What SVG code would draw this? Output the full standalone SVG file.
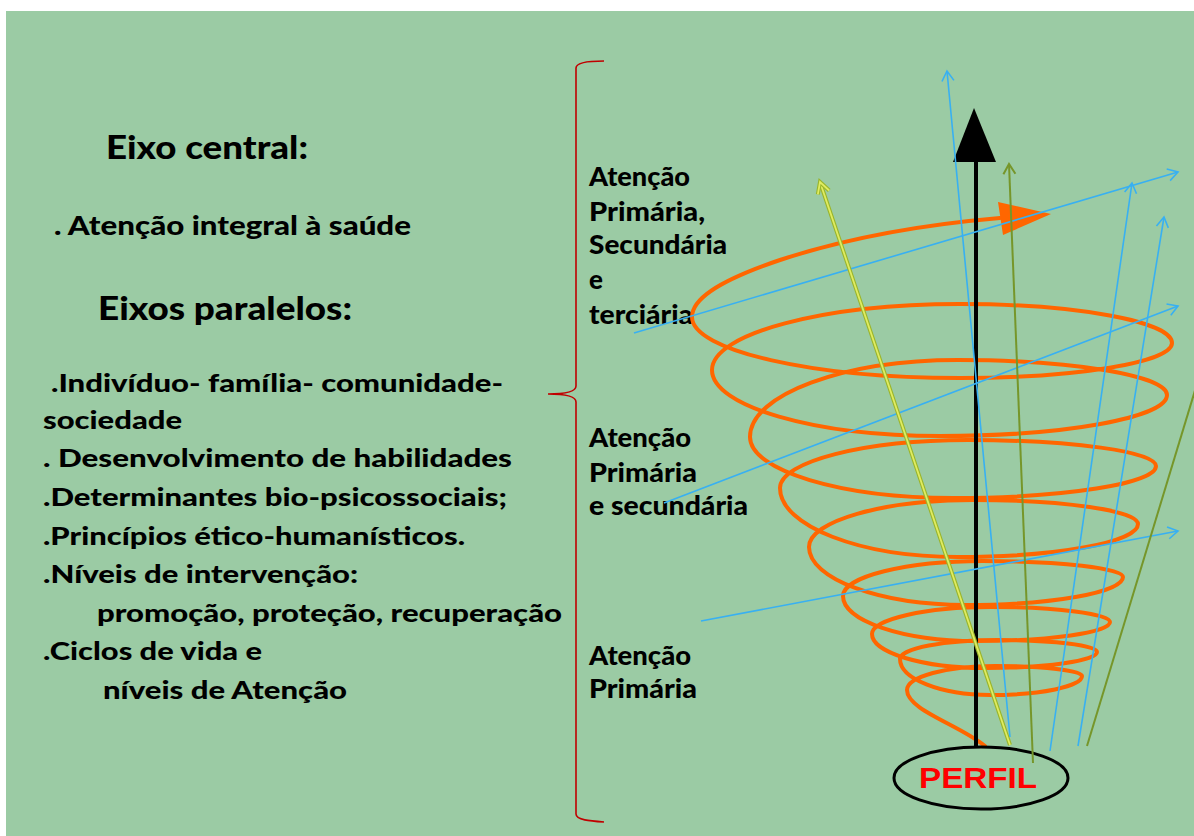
<svg xmlns="http://www.w3.org/2000/svg" width="1194" height="836" viewBox="0 0 1194 836">
<defs>
<style>
.t{font-family:Lato,"Open Sans","Liberation Sans",sans-serif;font-weight:900;fill:#000}
.h{font-size:32px}
.l{font-size:24px}
.r{font-size:26px}
.blue{stroke:#38b0f2;stroke-width:1.6;fill:none}
.olive{stroke:#76962a;stroke-width:2;fill:none}
</style>
<marker id="hb" markerUnits="userSpaceOnUse" markerWidth="24" markerHeight="24" viewBox="-12 -12 24 24" refX="0" refY="0" orient="auto">
<path d="M-10,-6 L0,0 L-10,6" fill="none" stroke="#38b0f2" stroke-width="1.6"/>
</marker>
<marker id="ho" markerUnits="userSpaceOnUse" markerWidth="24" markerHeight="24" viewBox="-12 -12 24 24" refX="0" refY="0" orient="auto">
<path d="M-10,-6 L0,0 L-10,6" fill="none" stroke="#76962a" stroke-width="2"/>
</marker>
<marker id="hy" markerUnits="userSpaceOnUse" markerWidth="30" markerHeight="30" viewBox="-15 -15 30 30" refX="0" refY="0" orient="auto">
<path d="M-11,-6 L0,0 L-11,6" fill="none" stroke="#9ab52a" stroke-width="4"/>
<path d="M-11,-6 L0,0 L-11,6" fill="none" stroke="#e0ec62" stroke-width="1.8"/>
</marker>
</defs>
<rect x="0" y="0" width="1194" height="836" fill="#ffffff"/>
<rect x="6" y="11" width="1188" height="825" fill="#9bcba4"/>

<g id="left-text">
<text class="t h" x="106" y="159" textLength="202" lengthAdjust="spacingAndGlyphs">Eixo central:</text>
<text class="t" font-size="26" x="54" y="235" textLength="357" lengthAdjust="spacingAndGlyphs">. Atenção integral à saúde</text>
<text class="t h" x="98" y="320" textLength="254" lengthAdjust="spacingAndGlyphs">Eixos paralelos:</text>
<text class="t l" x="51" y="392" textLength="452" lengthAdjust="spacingAndGlyphs">.Indivíduo- família- comunidade-</text>
<text class="t l" x="43" y="429" textLength="139" lengthAdjust="spacingAndGlyphs">sociedade</text>
<text class="t l" x="43" y="467" textLength="469" lengthAdjust="spacingAndGlyphs">. Desenvolvimento de habilidades</text>
<text class="t l" x="43" y="506" textLength="464" lengthAdjust="spacingAndGlyphs">.Determinantes bio-psicossociais;</text>
<text class="t l" x="43" y="545" textLength="422" lengthAdjust="spacingAndGlyphs">.Princípios ético-humanísticos.</text>
<text class="t l" x="43" y="583" textLength="315" lengthAdjust="spacingAndGlyphs">.Níveis de intervenção:</text>
<text class="t l" x="97" y="622" textLength="465" lengthAdjust="spacingAndGlyphs">promoção, proteção, recuperação</text>
<text class="t l" x="43" y="660" textLength="219" lengthAdjust="spacingAndGlyphs">.Ciclos de vida e</text>
<text class="t l" x="103" y="699" textLength="244" lengthAdjust="spacingAndGlyphs">níveis de Atenção</text>
</g>

<g id="brace">
<path d="M604,61 C590,61 576,62 576,68 L576,386 C576,392 566,394 548,394 C566,394 576,396 576,402 L576,814 C576,820 590,821 604,822" fill="none" stroke="#c00000" stroke-width="1.6"/>
</g>

<g id="level-labels">
<text class="t r" x="589" y="186" textLength="101" lengthAdjust="spacingAndGlyphs">Atenção</text>
<text class="t r" x="589" y="221" textLength="116" lengthAdjust="spacingAndGlyphs">Primária,</text>
<text class="t r" x="589" y="254" textLength="138" lengthAdjust="spacingAndGlyphs">Secundária</text>
<text class="t r" x="589" y="289">e</text>
<text class="t r" x="589" y="324" textLength="104" lengthAdjust="spacingAndGlyphs">terciária</text>
<text class="t r" x="589" y="447" textLength="102" lengthAdjust="spacingAndGlyphs">Atenção</text>
<text class="t r" x="589" y="482" textLength="108" lengthAdjust="spacingAndGlyphs">Primária</text>
<text class="t r" x="589" y="515" textLength="159" lengthAdjust="spacingAndGlyphs">e secundária</text>
<text class="t r" x="589" y="665" textLength="102" lengthAdjust="spacingAndGlyphs">Atenção</text>
<text class="t r" x="589" y="698" textLength="108" lengthAdjust="spacingAndGlyphs">Primária</text>
</g>

<g id="spiral">
<path fill="none" stroke="#ff6600" stroke-width="4" stroke-linecap="round" stroke-linejoin="round" d="M985,746 C960,725 907,710 907,690
C907,676.8 946.6,666 995,666 C1042.9,666 1082,670.5 1082,676 C1082,686.5 1040.6,695 990,695 C940.5,695 900,678.8 900,659
C900,648.5 944.1,640 998,640 C1052.5,640 1097,645.4 1097,652 C1097,660.8 1046.6,668 985,668 C922.9,668 872,652.7 872,634
C872,619.2 925.6,607 991,607 C1056.5,607 1110,613.8 1110,622 C1110,632.5 1049.7,641 976,641 C902.9,641 843,620.8 843,596
C843,576.8 906,561 983,561 C1060,561 1123,568.2 1123,577 C1123,592.4 1052.4,605 966,605 C879.7,605 809,578.9 809,547
C809,521.2 882.8,500 973,500 C1063.8,500 1138,510.8 1138,524 C1138,542.2 1057,557 958,557 C860.1,557 780,526 780,488
C780,461.6 864.6,440 968,440 C1071.4,440 1156,451.7 1156,466 C1156,483.6 1064.7,498 953,498 C841.4,498 750,470.6 750,437
C750,394.7 843.6,360 958,360 C1073,360 1167,375.8 1167,395 C1167,417.6 1064.9,436 940,436 C814.6,436 712,406.3 712,370
C712,333.7 823.6,304 960,304 C1076.6,304 1172,321.6 1172,343 C1172,362.3 1076.6,378 960,378 C812.6,378 692,350.6 692,317
C692,300 715,282 780,260 C850,237 930,224 1000,218"/>
<polygon points="998,202 1051,214 1003,235" fill="#ff6600"/>
</g>

<g id="perfil">
<ellipse cx="981" cy="778" rx="87" ry="31" fill="none" stroke="#000" stroke-width="3"/>
<text x="919" y="788" font-family="'Liberation Sans',Arial,sans-serif" font-weight="700" font-size="30" fill="#ff0000" textLength="118" lengthAdjust="spacingAndGlyphs">PERFIL</text>
</g>

<g id="connectors">
<line x1="976" y1="747" x2="976" y2="160" stroke="#000" stroke-width="4"/>
<polygon points="974,108 953,162 996,162" fill="#000"/>
<line class="blue" x1="1010" y1="737" x2="947" y2="71" marker-end="url(#hb)"/>
<line class="blue" x1="1050" y1="751" x2="1132" y2="183" marker-end="url(#hb)"/>
<line class="blue" x1="1078" y1="746" x2="1164" y2="217" marker-end="url(#hb)"/>
<line class="blue" x1="634" y1="333" x2="1178" y2="172" marker-end="url(#hb)"/>
<line class="blue" x1="664" y1="503" x2="1178" y2="306" marker-end="url(#hb)"/>
<line class="blue" x1="701" y1="621" x2="1178" y2="531" marker-end="url(#hb)"/>
<line class="olive" x1="1033" y1="763" x2="1009" y2="164" marker-end="url(#ho)"/>
<line class="olive" x1="1087" y1="746" x2="1200" y2="374"/>
<line x1="1010" y1="745" x2="820" y2="182" stroke="#9ab52a" stroke-width="4"/>
<line x1="1010" y1="745" x2="820" y2="182" stroke="#e0ec62" stroke-width="1.8" marker-end="url(#hy)"/>
</g>
</svg>
